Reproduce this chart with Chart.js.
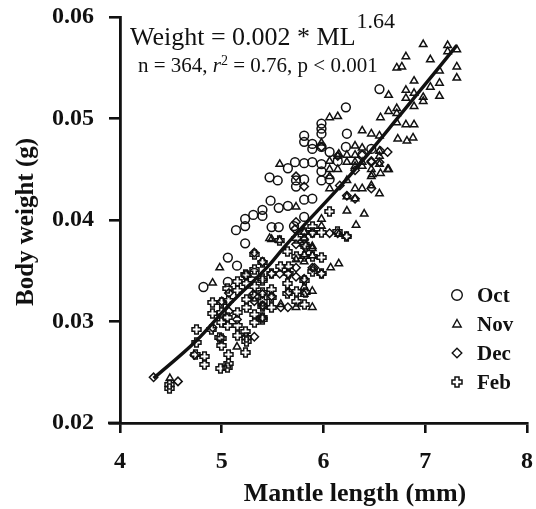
<!DOCTYPE html>
<html>
<head>
<meta charset="utf-8">
<script src="https://cdn.jsdelivr.net/npm/chart.js@4/dist/chart.umd.min.js"></script>
<style>
  body { margin: 0; background: #fff; }
  canvas { display: block; }
</style>
</head>
<body>
<canvas id="myChart" width="536" height="509"></canvas>
<script>
// values: [mantle length (mm), body weight (g)]
const octPoints = [
  [5.81,0.0483],[5.81,0.0477],[5.72,0.0457],[5.65,0.0451],[5.81,0.0456],[5.47,0.0442],[5.55,0.0439],
  [5.81,0.0440],[5.48,0.0419],[5.81,0.0420],[5.56,0.0412],[5.65,0.0414],[5.40,0.0410],[5.40,0.0404],
  [5.31,0.0405],[5.23,0.0401],[5.23,0.0394],[5.14,0.0390],[5.49,0.0393],[5.56,0.0393],[5.23,0.0377],
  [5.06,0.0363],[5.15,0.0355],[4.82,0.0334],[5.06,0.0339],[5.32,0.0348],[5.98,0.0495],[5.98,0.0490],
  [5.98,0.0485],[5.89,0.0475],[5.89,0.0470],[6.06,0.0467],[6.23,0.0485],[5.89,0.0457],[5.98,0.0455],
  [5.98,0.0448],[5.73,0.0439],[5.98,0.0439],[5.73,0.0433],[5.89,0.0421],[6.55,0.0529],[6.22,0.0511],
  [6.14,0.0458],[5.81,0.0403],[5.71,0.0394],[6.22,0.0472],[6.38,0.0464],[6.47,0.0470],[5.98,0.0472],
  [6.06,0.0440]
];
const novPoints = [
  [6.98,0.0573],[7.22,0.0572],[7.31,0.0568],[7.22,0.0566],[6.81,0.0561],[7.05,0.0558],[6.72,0.0550],
  [6.77,0.0551],[7.31,0.0551],[7.31,0.0540],[7.14,0.0547],[6.89,0.0537],[6.81,0.0528],[7.05,0.0531],
  [7.14,0.0535],[6.89,0.0525],[6.64,0.0523],[6.98,0.0521],[6.81,0.0520],[7.14,0.0522],[6.98,0.0517],
  [6.89,0.0512],[6.72,0.0510],[6.64,0.0507],[6.72,0.0505],[6.56,0.0501],[6.72,0.0496],[6.81,0.0494],
  [6.89,0.0494],[6.38,0.0488],[6.47,0.0485],[6.55,0.0483],[6.73,0.0480],[6.82,0.0478],[6.88,0.0481],
  [6.31,0.0473],[6.38,0.0471],[6.14,0.0463],[6.23,0.0464],[6.55,0.0468],[6.55,0.0463],[6.38,0.0453],
  [6.55,0.0455],[6.64,0.0450],[6.31,0.0457],[6.48,0.0445],[6.56,0.0446],[6.06,0.0501],[6.14,0.0502],
  [5.98,0.0476],[6.15,0.0465],[6.31,0.0464],[6.06,0.0458],[6.23,0.0457],[6.38,0.0457],[6.47,0.0450],
  [6.06,0.0450],[6.14,0.0450],[6.31,0.0453],[6.06,0.0443],[6.23,0.0439],[6.47,0.0443],[6.38,0.0431],
  [6.47,0.0434],[6.31,0.0431],[6.55,0.0426],[6.06,0.0431],[6.23,0.0423],[6.31,0.0421],[6.23,0.0409],
  [6.32,0.0395],[5.98,0.0401],[5.98,0.0394],[5.73,0.0413],[5.81,0.0388],[5.89,0.0374],[6.15,0.0386],
  [6.40,0.0406],[5.49,0.0381],[5.57,0.0380],[5.89,0.0372],[5.89,0.0365],[5.81,0.0366],[5.73,0.0361],
  [5.81,0.0359],[6.07,0.0353],[6.15,0.0357],[5.81,0.0334],[5.89,0.0330],[5.81,0.0327],[5.73,0.0314],
  [5.89,0.0314],[5.58,0.0317],[4.98,0.0353],[4.91,0.0338],[5.15,0.0275],[4.49,0.0244],[5.57,0.0455],
  [5.47,0.0382],[5.81,0.0382],[6.63,0.0450]
];
const decPoints = [
  [4.33,0.0245],[4.57,0.0241],[5.73,0.0398],[5.89,0.0387],[6.06,0.0387],[6.14,0.0387],[6.23,0.0384],
  [5.73,0.0376],[5.89,0.0353],[5.57,0.0347],[5.65,0.0347],[5.49,0.0347],[5.65,0.0314],[5.40,0.0327],
  [5.49,0.0325],[5.40,0.0316],[5.81,0.0381],[5.72,0.0391],[5.98,0.0347],[5.91,0.0353],[5.73,0.0353],
  [5.73,0.0344],[5.81,0.0342],[5.66,0.0329],[5.58,0.0314],[5.41,0.0315],[5.32,0.0368],[5.40,0.0359],
  [5.31,0.0327],[5.07,0.0328],[5.00,0.0320],[5.07,0.0310],[5.15,0.0302],[5.32,0.0320],[5.40,0.0304],
  [5.32,0.0285],[4.91,0.0294],[4.73,0.0267],[5.73,0.0443],[5.81,0.0433],[6.16,0.0434],[6.47,0.0431],
  [6.47,0.0458],[6.63,0.0467],[6.56,0.0468],[5.98,0.0472],[6.14,0.0463],[6.23,0.0424],[6.31,0.0421],
  [6.38,0.0464],[6.47,0.0457],[6.55,0.0457],[6.31,0.0449]
];
const febPoints = [
  [5.32,0.0366],[5.40,0.0358],[5.24,0.0345],[5.15,0.0339],[5.06,0.0333],[5.15,0.0331],[5.32,0.0334],
  [4.91,0.0319],[4.91,0.0308],[5.00,0.0309],[5.06,0.0304],[5.15,0.0309],[5.24,0.0314],[5.32,0.0307],
  [5.40,0.0315],[5.00,0.0299],[5.06,0.0296],[5.15,0.0296],[5.23,0.0290],[5.15,0.0286],[5.00,0.0283],
  [5.00,0.0276],[4.75,0.0292],[4.75,0.0279],[5.07,0.0267],[5.23,0.0269],[4.74,0.0267],[4.83,0.0266],
  [4.83,0.0258],[5.07,0.0259],[4.99,0.0254],[5.06,0.0255],[4.49,0.0234],[4.49,0.0238],[5.24,0.0284],
  [5.23,0.0346],[4.90,0.0292],[4.98,0.0284],[5.24,0.0280],[5.32,0.0299],[5.40,0.0302],[5.00,0.0319],
  [5.07,0.0321],[5.24,0.0322],[5.32,0.0325],[5.40,0.0340],[5.49,0.0332],[5.49,0.0324],[5.40,0.0320],
  [5.49,0.0314],[5.65,0.0328],[5.81,0.0340],[5.89,0.0349],[5.89,0.0364],[5.98,0.0363],[5.81,0.0364],
  [5.65,0.0337],[5.73,0.0320],[5.32,0.0351],[5.24,0.0337],[5.73,0.0330],[6.06,0.0408],[5.57,0.0380],
  [5.65,0.0369],[5.73,0.0364],[5.58,0.0354],[5.66,0.0347],[5.40,0.0342],[5.49,0.0347],[5.40,0.0329],
  [5.98,0.0347],[5.82,0.0329],[5.81,0.0317],[5.66,0.0354],[5.82,0.0374],[5.98,0.0388],[5.89,0.0388],
  [5.81,0.0388],[5.73,0.0382],[5.89,0.0394],[5.81,0.0376],[6.23,0.0384],[6.14,0.0389],[5.40,0.0304]
];
// fitted curve, read at a few points along the drawn line
const fitML = [4.33, 4.75, 5.07, 5.47, 5.62, 6.26, 6.75, 7.31];
const fitW  = [0.0244, 0.0281, 0.0316, 0.0356, 0.0374, 0.0444, 0.0503, 0.0572];

const xTicks = [4, 5, 6, 7, 8];
const yTicks = [0.02, 0.03, 0.04, 0.05, 0.06];
const monthLabels = ['Oct', 'Nov', 'Dec', 'Feb'];

const INK = '#111';
const SERIF = '"Liberation Serif", "Times New Roman", serif';

// open greek-cross marker (Feb)
function makeCross(size, arm, lw) {
  const c = document.createElement('canvas');
  c.width = size; c.height = size;
  const g = c.getContext('2d');
  const m = size / 2, L = size / 2 - 1, a = arm / 2;
  g.beginPath();
  g.moveTo(m - a, m - L); g.lineTo(m + a, m - L); g.lineTo(m + a, m - a);
  g.lineTo(m + L, m - a); g.lineTo(m + L, m + a); g.lineTo(m + a, m + a);
  g.lineTo(m + a, m + L); g.lineTo(m - a, m + L); g.lineTo(m - a, m + a);
  g.lineTo(m - L, m + a); g.lineTo(m - L, m - a); g.lineTo(m - a, m - a);
  g.closePath();
  g.lineWidth = lw; g.strokeStyle = INK; g.stroke();
  return c;
}
const crossMark = makeCross(11, 3.6, 1.5);
const crossLegend = makeCross(12, 4, 1.5);

const toXY = pts => pts.map(p => ({ x: p[0], y: p[1] }));

function pointSet(label, pts, style, r) {
  return {
    label: label,
    data: toXY(pts),
    pointStyle: style,
    pointRadius: r,
    pointBorderWidth: 1.5,
    pointBorderColor: INK,
    pointBackgroundColor: 'rgba(0,0,0,0)',
    showLine: false,
    order: 1
  };
}

function drawMarker(ctx, kind, x, y) {
  ctx.save();
  ctx.strokeStyle = INK; ctx.lineWidth = 1.4;
  ctx.beginPath();
  if (kind === 'Oct') {
    ctx.arc(x, y, 5.3, 0, Math.PI * 2);
  } else if (kind === 'Nov') {
    ctx.moveTo(x, y - 4.5); ctx.lineTo(x + 4.2, y + 3); ctx.lineTo(x - 4.2, y + 3); ctx.closePath();
  } else if (kind === 'Dec') {
    ctx.moveTo(x, y - 4.8); ctx.lineTo(x + 4.8, y); ctx.lineTo(x, y + 4.8); ctx.lineTo(x - 4.8, y); ctx.closePath();
  }
  ctx.stroke();
  if (kind === 'Feb') ctx.drawImage(crossLegend, x - 6, y - 6);
  ctx.restore();
}

const crisp = {
  id: 'crisp',
  beforeDatasetsDraw(chart) { chart.ctx.imageSmoothingEnabled = false; },
  afterDatasetsDraw(chart) { chart.ctx.imageSmoothingEnabled = true; }
};

const decor = {
  id: 'decor',
  afterDraw(chart) {
    const ctx = chart.ctx;
    const area = chart.chartArea;
    ctx.save();
    // x axis line runs a little past the y axis
    ctx.strokeStyle = INK; ctx.lineWidth = 2.8;
    ctx.beginPath(); ctx.moveTo(108, area.bottom); ctx.lineTo(area.left, area.bottom); ctx.stroke();

    ctx.fillStyle = INK;
    ctx.textBaseline = 'alphabetic';
    ctx.textAlign = 'left';

    // equation
    let x = 130;
    ctx.font = '26px ' + SERIF;
    const eq = 'Weight = 0.002 * ML';
    ctx.fillText(eq, x, 45);
    x += ctx.measureText(eq).width + 1;
    ctx.font = '22px ' + SERIF;
    ctx.fillText('1.64', x, 28);

    // stats line
    const parts = [
      ['n = 364, ', '21px ' + SERIF, 0],
      ['r', 'italic 21px ' + SERIF, 0],
      ['2', '14px ' + SERIF, -7],
      [' = 0.76, p < 0.001', '21px ' + SERIF, 0]
    ];
    x = 138;
    parts.forEach(p => {
      ctx.font = p[1];
      ctx.fillText(p[0], x, 72 + p[2]);
      x += ctx.measureText(p[0]).width;
    });

    // axis titles
    ctx.font = 'bold 26px ' + SERIF;
    ctx.textAlign = 'center';
    ctx.fillText('Mantle length (mm)', 355, 501);
    ctx.save();
    ctx.translate(33, 222);
    ctx.rotate(-Math.PI / 2);
    ctx.font = 'bold 25px ' + SERIF;
    ctx.fillText('Body weight (g)', 0, 0);
    ctx.restore();

    // legend
    ctx.textAlign = 'left';
    ctx.font = 'bold 21px ' + SERIF;
    const rowY = [295, 324, 353, 382];
    monthLabels.forEach((m, i) => {
      drawMarker(ctx, m, 457, rowY[i]);
      ctx.fillText(m, 477, rowY[i] + 7);
    });
    ctx.restore();
  }
};

new Chart(document.getElementById('myChart').getContext('2d'), {
  type: 'scatter',
  data: {
    datasets: [
      {
        label: 'fit',
        data: fitML.map((v, i) => ({ x: v, y: fitW[i] })),
        showLine: true,
        borderColor: INK,
        borderWidth: 3.4,
        pointRadius: 0,
        tension: 0.4,
        cubicInterpolationMode: 'monotone',
        order: 0
      },
      pointSet('Oct', octPoints, 'circle', 4.4),
      pointSet('Nov', novPoints, 'triangle', 4.3),
      pointSet('Dec', decPoints, 'rectRot', 4.2),
      pointSet('Feb', febPoints, crossMark, 5)
    ]
  },
  options: {
    responsive: false,
    animation: false,
    layout: { padding: { left: 0, right: 9, top: 17, bottom: 0 } },
    plugins: {
      legend: { display: false },
      tooltip: { enabled: false },
      title: { display: false }
    },
    scales: {
      x: {
        type: 'linear',
        min: 4,
        max: 8,
        afterFit: s => { s.height = 86; s.paddingLeft = 0; s.paddingRight = 0; },
        afterBuildTicks: s => { s.ticks = xTicks.map(v => ({ value: v })); },
        grid: { drawOnChartArea: false, drawTicks: true, tickLength: 10, color: INK, lineWidth: 2.6 },
        border: { display: true, color: INK, width: 2.8 },
        ticks: {
          color: INK,
          padding: 14,
          maxRotation: 0,
          font: { family: SERIF, size: 24, weight: 'bold' },
          callback: v => String(v)
        }
      },
      y: {
        type: 'linear',
        min: 0.02,
        max: 0.06,
        afterFit: s => { s.width = 120; s.paddingTop = 0; s.paddingBottom = 0; },
        afterBuildTicks: s => { s.ticks = yTicks.map(v => ({ value: v })); },
        grid: { drawOnChartArea: false, drawTicks: true, tickLength: 11, color: INK, lineWidth: 2.6 },
        border: { display: true, color: INK, width: 2.8 },
        ticks: {
          color: INK,
          padding: 15,
          font: { family: SERIF, size: 24, weight: 'bold' },
          callback: v => v.toFixed(2)
        }
      }
    }
  },
  plugins: [crisp, decor]
});
</script>
</body>
</html>
